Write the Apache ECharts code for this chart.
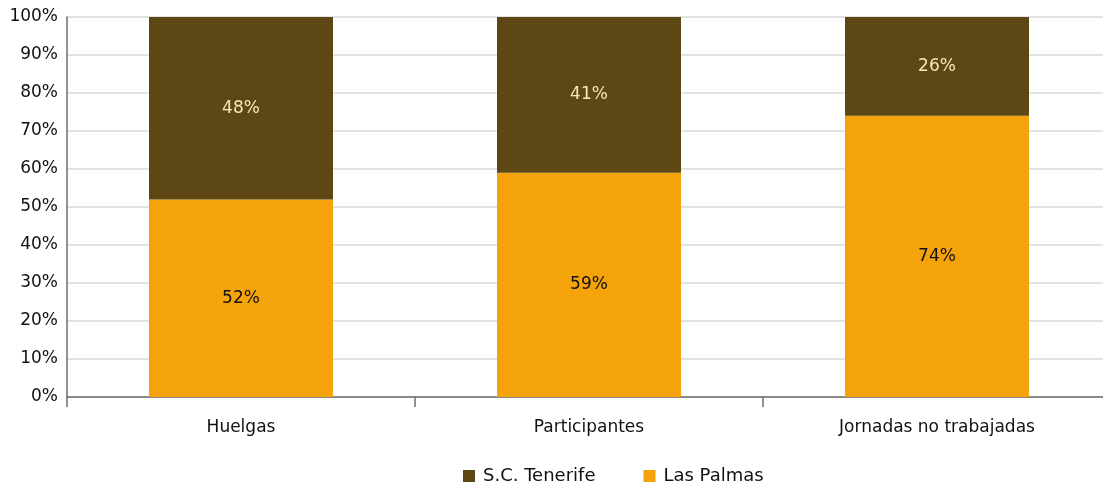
<!DOCTYPE html>
<html>
<head>
<meta charset="utf-8">
<script src="https://cdn.jsdelivr.net/npm/echarts@6/dist/echarts.min.js"></script>
<style>html,body{margin:0;padding:0;background:#fff;overflow:hidden}#c{width:1111px;height:486px}</style>
</head>
<body>
<div id="c"></div>
<script>
const categories = ['Huelgas', 'Participantes', 'Jornadas no trabajadas'];
const lasPalmas = [52, 59, 74];
const tenerife = [48, 41, 26];
const yTicks = [0, 10, 20, 30, 40, 50, 60, 70, 80, 90, 100];

const FONT = 'DejaVu Sans';
const chart = echarts.init(document.getElementById('c'));
chart.setOption({
  animation: false,
  textStyle: { fontFamily: FONT },
  grid: { left: 67, right: 0, top: 17, bottom: 89 },
  legend: {
    top: 462,
    left: 458,
    itemWidth: 12, itemHeight: 12, itemGap: 48,
    icon: 'rect',
    textStyle: { fontSize: 18, color: '#111', fontFamily: FONT, padding: [0, 0, 0, 3] },
    data: ['S.C. Tenerife', 'Las Palmas']
  },
  xAxis: {
    type: 'category',
    data: categories,
    axisLine: { lineStyle: { color: '#6e6e6e', width: 1.5 } },
    axisTick: { show: true, length: 10, lineStyle: { color: '#6e6e6e', width: 1.5 } },
    axisLabel: { fontSize: 17, color: '#111', margin: 22, fontFamily: FONT }
  },
  yAxis: {
    type: 'value',
    min: yTicks[0], max: yTicks[yTicks.length - 1], interval: 10,
    axisLine: { show: true, lineStyle: { color: '#6e6e6e', width: 1.5 } },
    axisTick: { show: false },
    splitLine: { lineStyle: { color: '#d9d9d9', width: 1.5 } },
    axisLabel: { formatter: '{value}%', fontSize: 17, color: '#111', margin: 9, fontFamily: FONT }
  },
  series: [
    {
      name: 'Las Palmas', type: 'bar', stack: 't', data: lasPalmas,
      barWidth: 184,
      itemStyle: { color: '#F5A30B' },
      label: { show: true, position: 'inside', formatter: '{c}%', color: '#111', fontSize: 17, fontFamily: FONT }
    },
    {
      name: 'S.C. Tenerife', type: 'bar', stack: 't', data: tenerife,
      barWidth: 184,
      itemStyle: { color: '#5C4715' },
      label: { show: true, position: 'inside', formatter: '{c}%', color: '#F5E8B5', fontSize: 17, fontFamily: FONT }
    }
  ]
});
</script>
</body>
</html>
